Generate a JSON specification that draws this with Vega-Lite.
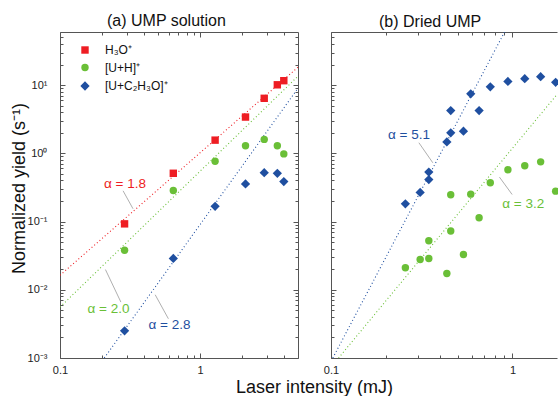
{
  "$schema": "https://vega.github.io/schema/vega-lite/v6.json",
  "padding": {"left": 10, "top": 13, "right": 0, "bottom": 0},
  "bounds": "flush",
  "spacing": 33,
  "config": {
    "font": "Liberation Sans",
    "view": {"stroke": null},
    "axis": {"grid": false, "domainColor": "#555", "tickColor": "#555", "labelColor": "#222", "labelFontSize": 11, "labelOverlap": false, "labelFlush": false, "domainWidth": 1, "tickWidth": 1, "minExtent": 0}
  },
  "resolve": {"scale": {"color": "independent", "shape": "independent", "fill": "independent", "stroke": "independent"}, "legend": {"color": "independent", "shape": "independent"}},
  "datasets": {
    "ptsA": [
      {"series": "H₃O⁺", "x": 0.289, "y": 0.0925},
      {"series": "H₃O⁺", "x": 0.644, "y": 0.51},
      {"series": "H₃O⁺", "x": 1.28, "y": 1.56},
      {"series": "H₃O⁺", "x": 2.11, "y": 3.4},
      {"series": "H₃O⁺", "x": 2.87, "y": 6.4},
      {"series": "H₃O⁺", "x": 3.56, "y": 10.1},
      {"series": "H₃O⁺", "x": 3.96, "y": 11.6},
      {"series": "[U+H]⁺", "x": 0.289, "y": 0.038},
      {"series": "[U+H]⁺", "x": 0.644, "y": 0.285},
      {"series": "[U+H]⁺", "x": 1.28, "y": 0.765},
      {"series": "[U+H]⁺", "x": 2.11, "y": 1.29},
      {"series": "[U+H]⁺", "x": 2.87, "y": 1.6},
      {"series": "[U+H]⁺", "x": 3.56, "y": 1.29},
      {"series": "[U+H]⁺", "x": 3.96, "y": 0.98},
      {"series": "[U+C₂H₃O]⁺", "x": 0.289, "y": 0.0025},
      {"series": "[U+C₂H₃O]⁺", "x": 0.644, "y": 0.0288},
      {"series": "[U+C₂H₃O]⁺", "x": 1.28, "y": 0.167},
      {"series": "[U+C₂H₃O]⁺", "x": 2.11, "y": 0.356},
      {"series": "[U+C₂H₃O]⁺", "x": 2.87, "y": 0.52},
      {"series": "[U+C₂H₃O]⁺", "x": 3.56, "y": 0.51},
      {"series": "[U+C₂H₃O]⁺", "x": 3.96, "y": 0.385}
    ],
    "ptsB": [
      {"series": "[U+H]⁺", "x": 0.257, "y": 0.021},
      {"series": "[U+H]⁺", "x": 0.31, "y": 0.0278},
      {"series": "[U+H]⁺", "x": 0.346, "y": 0.0288},
      {"series": "[U+H]⁺", "x": 0.346, "y": 0.0522},
      {"series": "[U+H]⁺", "x": 0.435, "y": 0.0173},
      {"series": "[U+H]⁺", "x": 0.457, "y": 0.0725},
      {"series": "[U+H]⁺", "x": 0.457, "y": 0.247},
      {"series": "[U+H]⁺", "x": 0.537, "y": 0.0329},
      {"series": "[U+H]⁺", "x": 0.589, "y": 0.252},
      {"series": "[U+H]⁺", "x": 0.655, "y": 0.1135},
      {"series": "[U+H]⁺", "x": 0.755, "y": 0.37},
      {"series": "[U+H]⁺", "x": 0.944, "y": 0.573},
      {"series": "[U+H]⁺", "x": 1.169, "y": 0.656},
      {"series": "[U+H]⁺", "x": 1.43, "y": 0.75},
      {"series": "[U+H]⁺", "x": 1.73, "y": 0.279},
      {"series": "[U+C₂H₃O]⁺", "x": 0.257, "y": 0.182},
      {"series": "[U+C₂H₃O]⁺", "x": 0.31, "y": 0.267},
      {"series": "[U+C₂H₃O]⁺", "x": 0.346, "y": 0.413},
      {"series": "[U+C₂H₃O]⁺", "x": 0.346, "y": 0.531},
      {"series": "[U+C₂H₃O]⁺", "x": 0.435, "y": 1.47},
      {"series": "[U+C₂H₃O]⁺", "x": 0.457, "y": 2.0},
      {"series": "[U+C₂H₃O]⁺", "x": 0.457, "y": 4.24},
      {"series": "[U+C₂H₃O]⁺", "x": 0.537, "y": 2.11},
      {"series": "[U+C₂H₃O]⁺", "x": 0.589, "y": 7.44},
      {"series": "[U+C₂H₃O]⁺", "x": 0.655, "y": 4.24},
      {"series": "[U+C₂H₃O]⁺", "x": 0.755, "y": 9.43},
      {"series": "[U+C₂H₃O]⁺", "x": 0.944, "y": 11.3},
      {"series": "[U+C₂H₃O]⁺", "x": 1.169, "y": 12.4},
      {"series": "[U+C₂H₃O]⁺", "x": 1.43, "y": 13.3},
      {"series": "[U+C₂H₃O]⁺", "x": 1.73, "y": 11.0}
    ],
    "fitA": [
      {"series": "H₃O⁺", "x": 0.1, "y": 0.0163},
      {"series": "H₃O⁺", "x": 5, "y": 18.3},
      {"series": "[U+H]⁺", "x": 0.1, "y": 0.00557},
      {"series": "[U+H]⁺", "x": 5, "y": 13.5},
      {"series": "[U+C₂H₃O]⁺", "x": 0.207, "y": 0.001},
      {"series": "[U+C₂H₃O]⁺", "x": 5, "y": 9}
    ],
    "fitB": [
      {"series": "[U+H]⁺", "x": 0.11, "y": 0.001},
      {"series": "[U+H]⁺", "x": 1.741, "y": 7.03},
      {"series": "[U+C₂H₃O]⁺", "x": 0.1023, "y": 0.001},
      {"series": "[U+C₂H₃O]⁺", "x": 0.904, "y": 59.7}
    ],
    "leadA": [
      {"id": "a", "x": 0.282, "y": 0.282},
      {"id": "a", "x": 0.332, "y": 0.154},
      {"id": "b", "x": 0.211, "y": 0.0198},
      {"id": "b", "x": 0.272, "y": 0.0066},
      {"id": "c", "x": 0.478, "y": 0.00845},
      {"id": "c", "x": 0.594, "y": 0.00376}
    ],
    "leadB": [
      {"id": "a", "x": 0.305, "y": 1.43},
      {"id": "a", "x": 0.364, "y": 0.726},
      {"id": "b", "x": 0.848, "y": 0.448},
      {"id": "b", "x": 0.996, "y": 0.249}
    ],
    "noteA": [
      {"series": "H₃O⁺", "label": "α = 1.8", "x": 0.291, "y": 0.357},
      {"series": "[U+H]⁺", "label": "α = 2.0", "x": 0.222, "y": 0.00527},
      {"series": "[U+C₂H₃O]⁺", "label": "α = 2.8", "x": 0.605, "y": 0.00307}
    ],
    "noteB": [
      {"series": "[U+C₂H₃O]⁺", "label": "α = 5.1", "x": 0.269, "y": 1.87},
      {"series": "[U+H]⁺", "label": "α = 3.2", "x": 1.146, "y": 0.178}
    ]
  },
  "hconcat": [
    {
      "width": 238,
      "height": 326,
      "title": {"text": "(a) UMP solution", "anchor": "start", "frame": "group", "dx": 47, "fontSize": 16, "fontWeight": "normal", "baseline": "bottom", "offset": -14, "color": "#111"},
      "resolve": {"axis": {"x": "independent", "y": "independent"}},
      "layer": [
        {
          "data": {"name": "fitA"},
          "mark": {"type": "line", "clip": true, "strokeWidth": 1.1, "strokeDash": [1, 2.5]},
          "encoding": {
            "x": {"field": "x", "type": "quantitative", "scale": {"type": "log", "domain": [0.1, 5], "nice": false},
              "axis": {"orient": "top", "values": [0.1,0.2,0.3,0.4,0.5,0.6,0.7,0.8,0.9,1,2,3,4], "labels": false, "title": null, "maxExtent": 0,
                "tickSize": {"condition": {"test": "datum.value == 0.1 || datum.value == 1", "value": -5}, "value": -3}}},
            "y": {"field": "y", "type": "quantitative", "scale": {"type": "log", "domain": [0.001, 60], "nice": false},
              "axis": {"orient": "right", "values": [0.001,0.002,0.003,0.004,0.005,0.006,0.007,0.008,0.009,0.01,0.02,0.03,0.04,0.05,0.06,0.07,0.08,0.09,0.1,0.2,0.3,0.4,0.5,0.6,0.7,0.8,0.9,1,2,3,4,5,6,7,8,9,10,20,30,40,50], "labels": false, "title": null, "maxExtent": 0,
                "tickSize": {"condition": {"test": "datum.value == 10 || datum.value == 1 || datum.value == 0.1 || datum.value == 0.01 || datum.value == 0.001", "value": -5}, "value": -3}}},
            "stroke": {"field": "series", "type": "nominal", "legend": null,
              "scale": {"domain": ["[U+C₂H₃O]⁺", "[U+H]⁺", "H₃O⁺"], "range": ["#1f4fa0", "#6abf37", "#ee1d23"]}},
            "detail": {"field": "series"}
          }
        },
        {
          "data": {"name": "leadA"},
          "mark": {"type": "line", "color": "#9a9a9a", "strokeWidth": 0.8},
          "encoding": {
            "x": {"field": "x", "type": "quantitative", "axis": null},
            "y": {"field": "y", "type": "quantitative", "axis": null},
            "detail": {"field": "id"}
          }
        },
        {
          "data": {"name": "noteA"},
          "mark": {"type": "text", "fontSize": 13.5, "align": "center", "baseline": "middle"},
          "encoding": {
            "x": {"field": "x", "type": "quantitative", "axis": null},
            "y": {"field": "y", "type": "quantitative", "axis": null},
            "text": {"field": "label"},
            "fill": {"field": "series", "type": "nominal", "legend": null,
              "scale": {"domain": ["[U+H]⁺", "H₃O⁺", "[U+C₂H₃O]⁺"], "range": ["#6abf37", "#ee1d23", "#1f4fa0"]}}
          }
        },
        {
          "data": {"name": "ptsA"},
          "mark": {"type": "point", "filled": true, "opacity": 1, "size": 55},
          "encoding": {
            "x": {"field": "x", "type": "quantitative",
              "axis": {"orient": "bottom", "values": [0.1,0.2,0.3,0.4,0.5,0.6,0.7,0.8,0.9,1,2,3,4],
                "labelExpr": "datum.value == 0.1 ? '0.1' : datum.value == 1 ? '1' : ''",
                "labelPadding": 11,
                "tickSize": {"condition": {"test": "datum.value == 0.1 || datum.value == 1", "value": -5}, "value": -3},
                "title": "Laser intensity (mJ)", "titleFontSize": 18, "titleFontWeight": "normal", "titleColor": "#111",
                "titleX": 254, "titleY": 34, "titleBaseline": "alphabetic", "titleAlign": "center"}},
            "y": {"field": "y", "type": "quantitative",
              "axis": {"orient": "left", "values": [0.001,0.002,0.003,0.004,0.005,0.006,0.007,0.008,0.009,0.01,0.02,0.03,0.04,0.05,0.06,0.07,0.08,0.09,0.1,0.2,0.3,0.4,0.5,0.6,0.7,0.8,0.9,1,2,3,4,5,6,7,8,9,10,20,30,40,50],
                "labelExpr": "datum.value == 10 ? '10¹' : datum.value == 1 ? '10⁰' : datum.value == 0.1 ? '10⁻¹' : datum.value == 0.01 ? '10⁻²' : datum.value == 0.001 ? '10⁻³' : ''",
                "labelPadding": 18,
                "tickSize": {"condition": {"test": "datum.value == 10 || datum.value == 1 || datum.value == 0.1 || datum.value == 0.01 || datum.value == 0.001", "value": -5}, "value": -3},
                "title": "Normalized yield (s⁻¹)", "titleFontSize": 18, "titleFontWeight": "normal", "titleColor": "#111",
                "titleX": -41, "titleY": 156, "titleBaseline": "middle", "titleAlign": "center", "titleAngle": -90}},
            "color": {"field": "series", "type": "nominal", "title": null,
              "scale": {"domain": ["H₃O⁺", "[U+H]⁺", "[U+C₂H₃O]⁺"], "range": ["#ee1d23", "#6abf37", "#1f4fa0"]},
              "legend": {"orient": "none", "legendX": 19, "legendY": 12, "padding": 0, "labelFontSize": 12, "labelColor": "#111", "labelOffset": 14, "rowPadding": 3.5, "symbolSize": 55, "symbolOpacity": 1}},
            "shape": {"field": "series", "type": "nominal", "title": null,
              "scale": {"domain": ["H₃O⁺", "[U+H]⁺", "[U+C₂H₃O]⁺"], "range": ["square", "circle", "M-1.25,0L0,-1.25L1.25,0L0,1.25Z"]}}
          }
        }
      ]
    },
    {
      "width": 226,
      "height": 326,
      "title": {"text": "(b) Dried UMP", "anchor": "start", "frame": "group", "dx": 48, "fontSize": 16, "fontWeight": "normal", "baseline": "bottom", "offset": -14, "color": "#111"},
      "resolve": {"axis": {"x": "independent", "y": "independent"}},
      "layer": [
        {
          "data": {"name": "fitB"},
          "mark": {"type": "line", "clip": true, "strokeWidth": 1.1, "strokeDash": [1, 2.5]},
          "encoding": {
            "x": {"field": "x", "type": "quantitative", "scale": {"type": "log", "domain": [0.1, 1.76], "nice": false},
              "axis": {"orient": "top", "values": [0.1,0.2,0.3,0.4,0.5,0.6,0.7,0.8,0.9,1], "labels": false, "title": null, "maxExtent": 0,
                "tickSize": {"condition": {"test": "datum.value == 0.1 || datum.value == 1", "value": -5}, "value": -3}}},
            "y": {"field": "y", "type": "quantitative", "scale": {"type": "log", "domain": [0.001, 60], "nice": false}, "axis": null},
            "stroke": {"field": "series", "type": "nominal", "legend": null,
              "scale": {"domain": ["[U+C₂H₃O]⁺", "[U+H]⁺", "H₃O⁺"], "range": ["#1f4fa0", "#6abf37", "#ee1d23"]}},
            "detail": {"field": "series"}
          }
        },
        {
          "data": {"name": "leadB"},
          "mark": {"type": "line", "color": "#9a9a9a", "strokeWidth": 0.8},
          "encoding": {
            "x": {"field": "x", "type": "quantitative", "axis": null},
            "y": {"field": "y", "type": "quantitative", "axis": null},
            "detail": {"field": "id"}
          }
        },
        {
          "data": {"name": "noteB"},
          "mark": {"type": "text", "fontSize": 13.5, "align": "center", "baseline": "middle"},
          "encoding": {
            "x": {"field": "x", "type": "quantitative", "axis": null},
            "y": {"field": "y", "type": "quantitative", "axis": null},
            "text": {"field": "label"},
            "fill": {"field": "series", "type": "nominal", "legend": null,
              "scale": {"domain": ["[U+H]⁺", "H₃O⁺", "[U+C₂H₃O]⁺"], "range": ["#6abf37", "#ee1d23", "#1f4fa0"]}}
          }
        },
        {
          "data": {"name": "ptsB"},
          "mark": {"type": "point", "filled": true, "opacity": 1, "size": 55},
          "encoding": {
            "x": {"field": "x", "type": "quantitative",
              "axis": {"orient": "bottom", "values": [0.1,0.2,0.3,0.4,0.5,0.6,0.7,0.8,0.9,1],
                "labelExpr": "datum.value == 0.1 ? '0.1' : datum.value == 1 ? '1' : ''",
                "labelPadding": 11,
                "tickSize": {"condition": {"test": "datum.value == 0.1 || datum.value == 1", "value": -5}, "value": -3},
                "title": null}},
            "y": {"field": "y", "type": "quantitative",
              "axis": {"orient": "left", "values": [0.001,0.002,0.003,0.004,0.005,0.006,0.007,0.008,0.009,0.01,0.02,0.03,0.04,0.05,0.06,0.07,0.08,0.09,0.1,0.2,0.3,0.4,0.5,0.6,0.7,0.8,0.9,1,2,3,4,5,6,7,8,9,10,20,30,40,50],
                "labels": false, "title": null, "maxExtent": 0,
                "tickSize": {"condition": {"test": "datum.value == 10 || datum.value == 1 || datum.value == 0.1 || datum.value == 0.01 || datum.value == 0.001", "value": -5}, "value": -3}}},
            "color": {"field": "series", "type": "nominal", "legend": null,
              "scale": {"domain": ["H₃O⁺", "[U+H]⁺", "[U+C₂H₃O]⁺"], "range": ["#ee1d23", "#6abf37", "#1f4fa0"]}},
            "shape": {"field": "series", "type": "nominal", "legend": null,
              "scale": {"domain": ["H₃O⁺", "[U+H]⁺", "[U+C₂H₃O]⁺"], "range": ["square", "circle", "M-1.25,0L0,-1.25L1.25,0L0,1.25Z"]}}
          }
        }
      ]
    }
  ]
}
